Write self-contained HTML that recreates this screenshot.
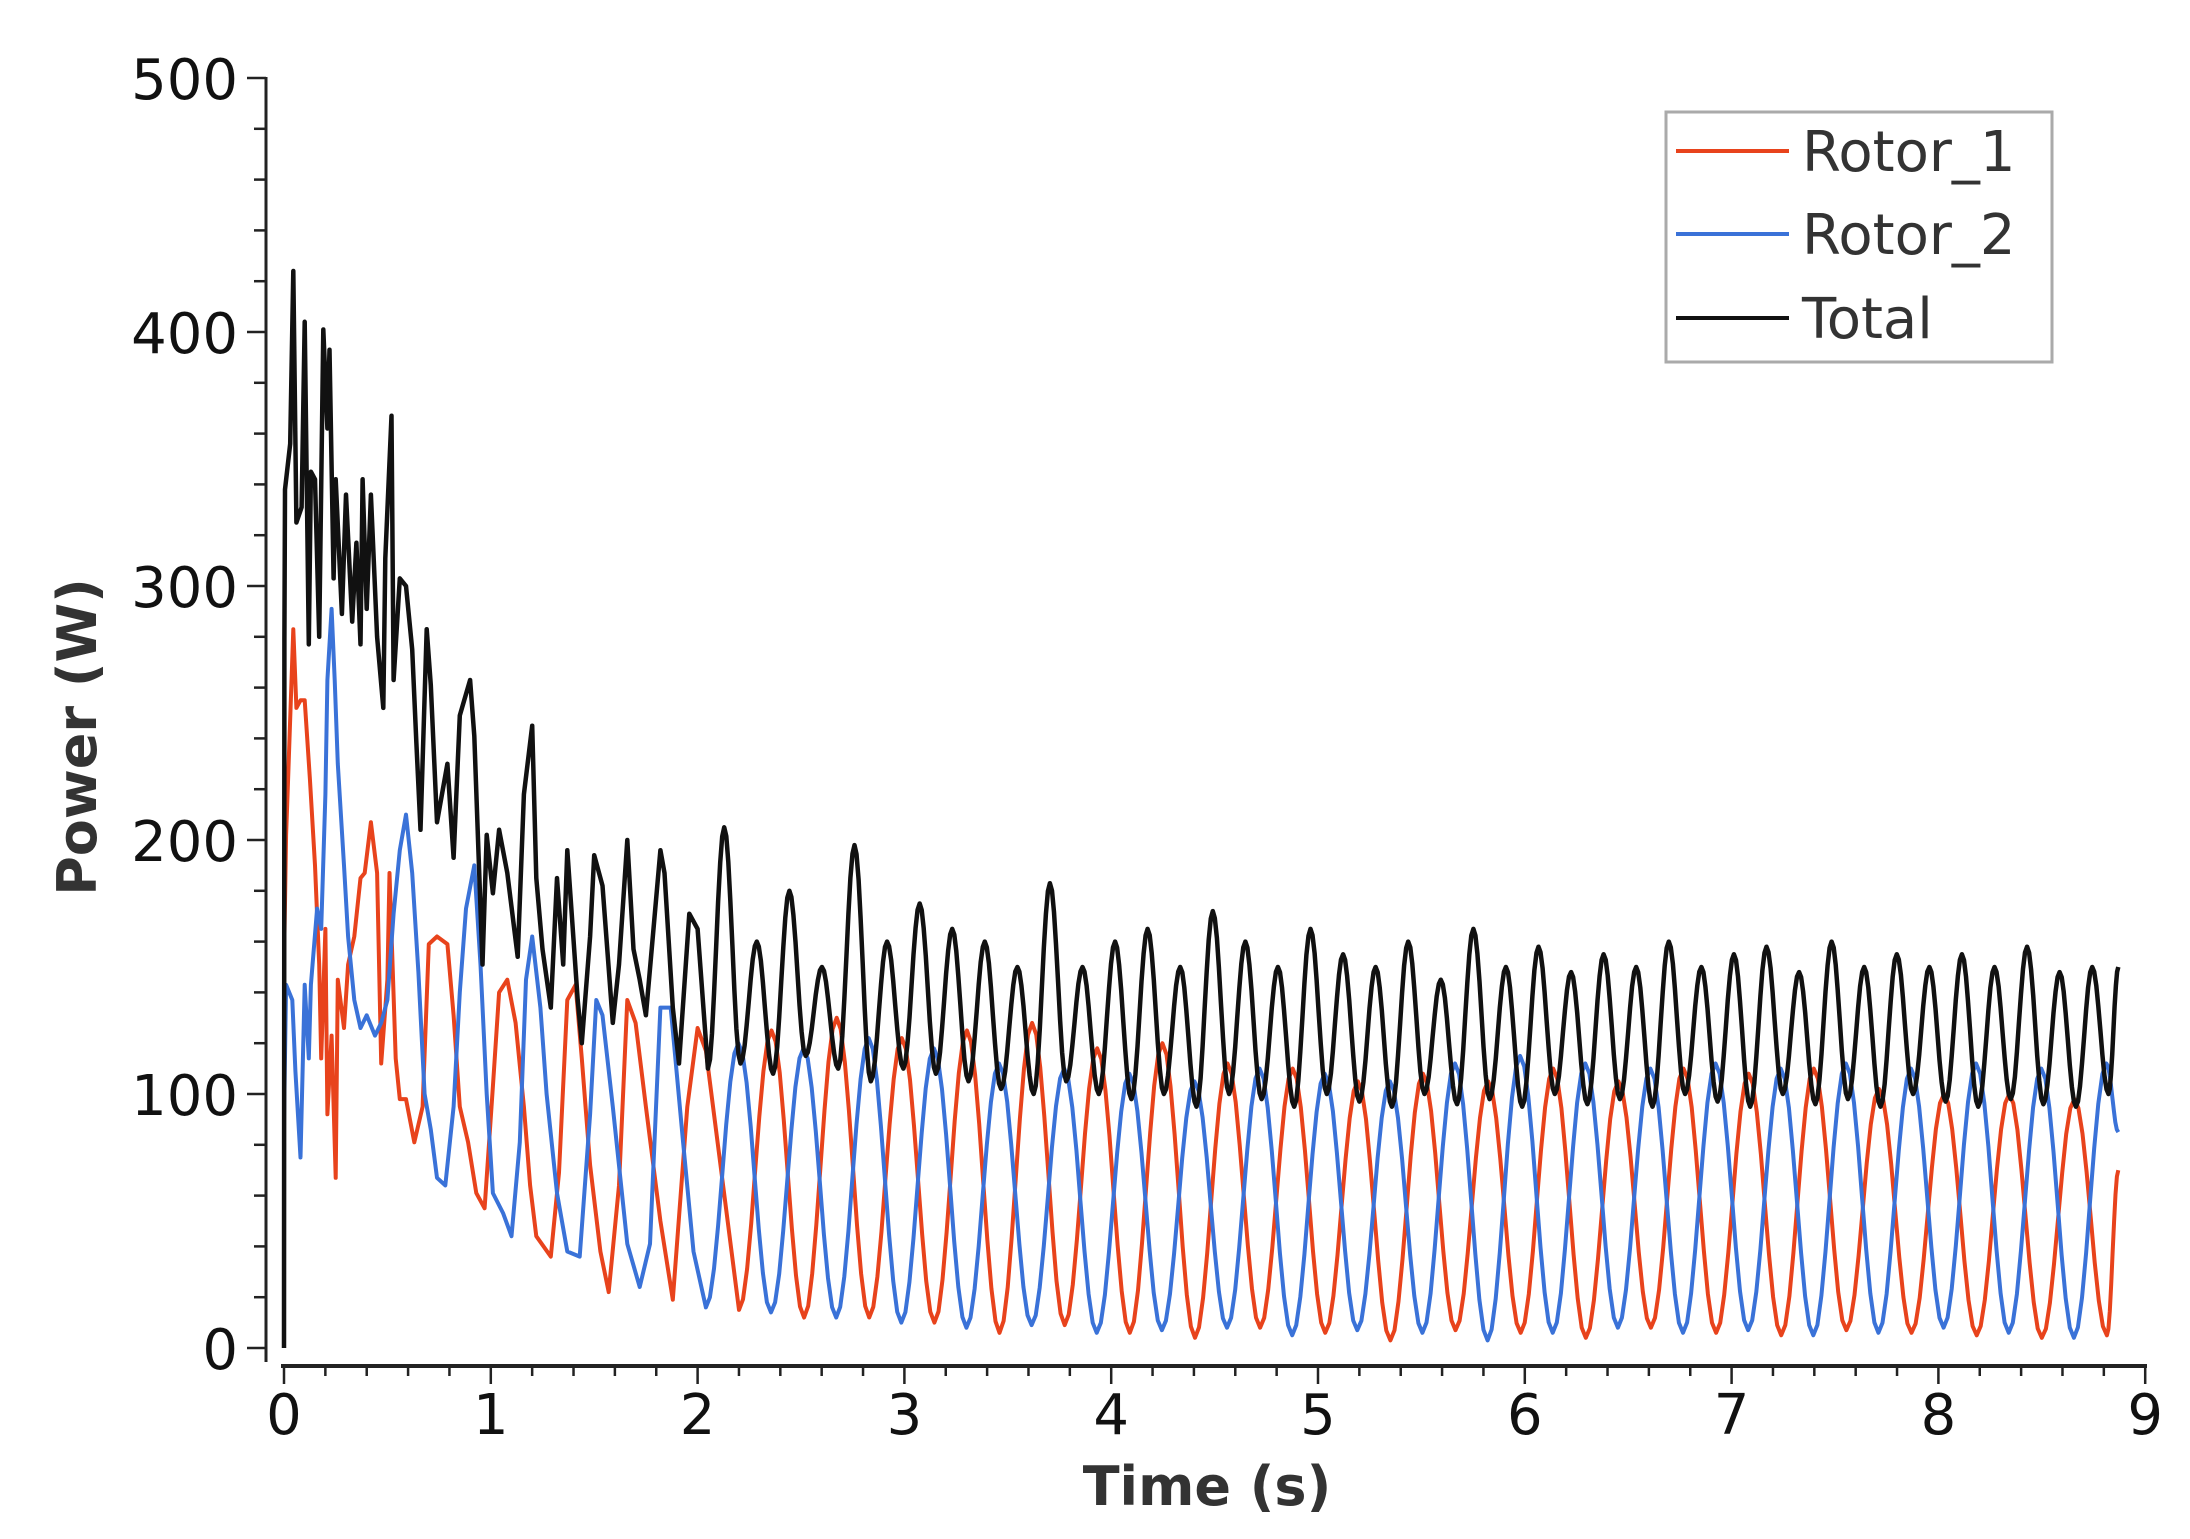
<!DOCTYPE html>
<html><head><meta charset="utf-8"><style>
html,body{margin:0;padding:0;background:#fff;}
svg{display:block;}
text{font-family:"DejaVu Sans","Liberation Sans",sans-serif;}
</style></head>
<body>
<svg id="chart" width="2190" height="1539" viewBox="0 0 2190 1539" xmlns="http://www.w3.org/2000/svg">
  <g id="series"></g>
  <g id="axes"></g>
  <text x="1207" y="1505" text-anchor="middle" font-size="54" font-weight="bold" fill="#333">Time (s)</text>
  <text transform="translate(96,737) rotate(-90)" text-anchor="middle" font-size="54" font-weight="bold" fill="#333">Power (W)</text>
  <g>
    <rect x="1666" y="112" width="386" height="250" fill="#fff" stroke="#aaa" stroke-width="3"/>
    <line x1="1676" y1="151" x2="1789" y2="151" stroke="#e8431c" stroke-width="4"/>
    <text x="1802" y="171" font-size="56" fill="#333">Rotor_1</text>
    <line x1="1676" y1="234" x2="1789" y2="234" stroke="#3a72d8" stroke-width="4"/>
    <text x="1802" y="254" font-size="56" fill="#333">Rotor_2</text>
    <line x1="1676" y1="318" x2="1789" y2="318" stroke="#111" stroke-width="4"/>
    <text x="1802" y="338" font-size="56" fill="#333">Total</text>
  </g>
</svg>
<script>
// ---- data ----
const xTicks = [0,1,2,3,4,5,6,7,8,9];
const yTicks = [0,100,200,300,400,500];

const redEarlyT = [0,0.01,0.02,0.045,0.06,0.08,0.1,0.125,0.15,0.17,0.18,0.2,0.21,0.23,0.25,0.26,0.29,0.31,0.34,0.37,0.39,0.42,0.45,0.47,0.5,0.51,0.54,0.56,0.59,0.63,0.67,0.7,0.74,0.79,0.82,0.85,0.89,0.93,0.97,1.01,1.04,1.08,1.12,1.16,1.19,1.22,1.29,1.33,1.37,1.41,1.44,1.48,1.53,1.57,1.62,1.66,1.7,1.75,1.82,1.88,1.95,2.0,2.04];
const redEarlyV = [151,202,224,283,252,255,255,224,190,151,114,165,92,123,67,145,126,151,162,185,187,207,187,112,145,187,114,98,98,81,95,159,162,159,131,95,81,61,55,103,140,145,128,95,64,44,36,69,137,143,114,72,38,22,64,137,128,95,50,19,95,126,117];
const redPeriodStart = 2.20;
const redExtrema = [15,125,12,130,12,122,10,125,6,128,9,118,6,120,4,112,8,110,6,105,3,108,7,105,6,110,4,105,8,110,6,108,5,110,7,102,6,100,5,100,4,98,5];
const redEnd = [8.87,70];

const blueEarlyT = [0,0.01,0.04,0.055,0.08,0.1,0.12,0.13,0.16,0.18,0.2,0.21,0.23,0.245,0.26,0.29,0.31,0.34,0.37,0.4,0.44,0.47,0.5,0.53,0.56,0.59,0.62,0.65,0.68,0.71,0.74,0.78,0.82,0.85,0.88,0.92,0.95,0.98,1.01,1.06,1.1,1.14,1.17,1.2,1.24,1.27,1.32,1.37,1.43,1.48,1.51,1.54,1.59,1.66,1.72,1.77,1.82,1.87,1.93,1.98];
const blueEarlyV = [89,143,137,109,75,143,114,143,173,165,218,263,291,263,230,190,162,137,126,131,123,128,137,171,196,210,187,148,100,86,67,64,95,140,173,190,151,100,61,53,44,81,145,162,134,100,61,38,36,92,137,131,95,41,24,41,134,134,81,38];
const bluePeriodStart = 2.04;
const blueExtrema = [16,120,14,118,12,122,10,118,8,112,9,110,6,108,7,105,8,110,5,108,7,105,6,112,3,115,6,112,8,110,6,112,7,110,5,112,6,110,8,112,6,110,4,112];
const blueEnd = [8.87,85];

const totalEarlyT = [0,0.002,0.005,0.03,0.045,0.06,0.085,0.1,0.12,0.13,0.15,0.17,0.19,0.21,0.22,0.24,0.25,0.28,0.3,0.33,0.35,0.37,0.38,0.4,0.42,0.45,0.48,0.49,0.52,0.53,0.56,0.59,0.62,0.64,0.66,0.69,0.71,0.74,0.79,0.82,0.85,0.9,0.92,0.96,0.98,1.01,1.04,1.08,1.13,1.16,1.2,1.22,1.25,1.29,1.32,1.35,1.37,1.42,1.44,1.48,1.5,1.54,1.59,1.62,1.66,1.69,1.72,1.75,1.82,1.84,1.88,1.91,1.96,2.0];
const totalEarlyV = [0,279,338,356,424,325,331,404,277,345,342,280,401,362,393,303,342,289,336,286,317,277,342,291,336,280,252,311,367,263,303,300,275,238,204,283,261,207,230,193,249,263,241,151,202,179,204,187,154,218,245,185,157,134,185,151,196,137,120,162,194,182,128,151,200,157,145,131,196,187,134,112,171,165];
const totalPeriodStart = 2.05;
const totalExtrema = [110,205,112,160,108,180,115,150,110,198,105,160,110,175,108,165,105,160,102,150,100,183,105,150,100,160,98,165,100,150,95,172,100,160,98,150,95,165,100,155,97,150,95,160,100,145,96,165,98,150,95,158,100,148,96,155,98,150,95,160,100,150,97,155,95,158,100,148,96,160,98,150,95,155,100,150,97,155,95,150,98,158,96,148,95,150,100];
const totalEnd = [8.87,150];

const halfPeriodRotor = 0.1575;
const halfPeriodTotal = 0.07875;

// ---- scales ----
const X0 = 284, XS = 206.8, Y0 = 1348, YS = 2.54;
function xScale(t){ return X0 + t*XS; }
function yScale(v){ return Y0 - v*YS; }
const NS = 'http://www.w3.org/2000/svg';
function mk(tag, attrs, parent){
  const e = document.createElementNS(NS, tag);
  for (const k in attrs) e.setAttribute(k, attrs[k]);
  parent.appendChild(e);
  return e;
}

function buildPath(earlyT, earlyV, start, step, extrema, end){
  const pts = [];
  for (let i=0;i<earlyT.length;i++) pts.push([xScale(earlyT[i]), yScale(earlyV[i])]);
  const reg = [];
  for (let i=0;i<extrema.length;i++){
    const t = start + i*step;
    if (t > end[0]) break;
    reg.push({t:t, v:extrema[i]});
  }
  reg.push({t:end[0], v:end[1]});
  pts.push([xScale(reg[0].t), yScale(reg[0].v)]);
  for (let i=1;i<reg.length;i++){
    const a = reg[i-1], b = reg[i];
    const n = 8;
    for (let s=1;s<=n;s++){
      const f = s/n;
      const w = (1-Math.cos(Math.PI*f))/2;
      pts.push([xScale(a.t + (b.t-a.t)*f), yScale(a.v + (b.v-a.v)*w)]);
    }
  }
  return 'M' + pts.map(p => p[0].toFixed(1)+','+p[1].toFixed(1)).join('L');
}

const sg = document.getElementById('series');
const redPath = mk('path', {d: buildPath(redEarlyT, redEarlyV, redPeriodStart, halfPeriodRotor, redExtrema, redEnd), fill:'none', stroke:'#e8431c', 'stroke-width':4, 'stroke-linejoin':'round'}, sg);


const bluePath = mk('path', {d: buildPath(blueEarlyT, blueEarlyV, bluePeriodStart, halfPeriodRotor, blueExtrema, blueEnd), fill:'none', stroke:'#3a72d8', 'stroke-width':4, 'stroke-linejoin':'round'}, sg);


const totalPath = mk('path', {d: buildPath(totalEarlyT, totalEarlyV, totalPeriodStart, halfPeriodTotal, totalExtrema, totalEnd), fill:'none', stroke:'#111', 'stroke-width':4.5, 'stroke-linejoin':'round'}, sg);



// ---- axes ----
const ag = document.getElementById('axes');
const yAxis = mk('line', {x1:266, y1:77, x2:266, y2:1362, stroke:'#222', 'stroke-width':3}, ag);


const xAxis = mk('line', {x1:281, y1:1366, x2:2147, y2:1366, stroke:'#222', 'stroke-width':4}, ag);



for (let v=0; v<=500; v+=20){
  const major = v % 100 === 0;
  const tk = mk('line', {x1: major?247:254, y1:yScale(v), x2:266, y2:yScale(v), stroke:'#222', 'stroke-width':2.5}, ag);
  
  
}
for (const v of yTicks){
  const lb = mk('text', {x:238, y:yScale(v)+21, 'text-anchor':'end', 'font-size':56, fill:'#111'}, ag);
  lb.textContent = String(v);
  
  
}
for (let i=0; i<=45; i++){
  const t = i*0.2;
  const major = i % 5 === 0;
  const tk = mk('line', {x1:xScale(t), y1:1366, x2:xScale(t), y2: major?1384:1376, stroke:'#222', 'stroke-width':2.5}, ag);
  
  
}
for (const t of xTicks){
  const lb = mk('text', {x:xScale(t), y:1434, 'text-anchor':'middle', 'font-size':56, fill:'#111'}, ag);
  lb.textContent = String(t);
  
  
}
</script>
</body></html>
